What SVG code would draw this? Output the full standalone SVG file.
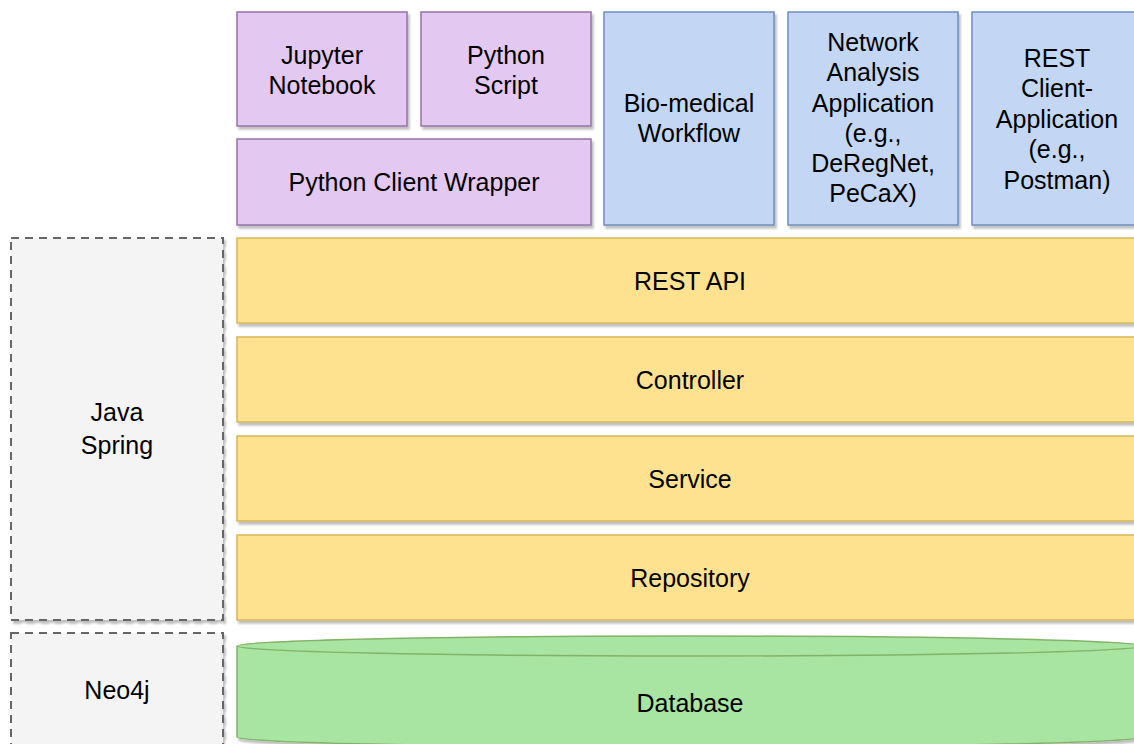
<svg xmlns="http://www.w3.org/2000/svg" width="1134" height="744" viewBox="0 0 1134 744">
<style>
text{font-family:"Liberation Sans",Arial,Helvetica,sans-serif;font-size:25px;fill:#000;text-anchor:middle}
.pur{fill:#e3c9f2;stroke:#9673a6;stroke-width:1.5}
.blu{fill:#c3d7f4;stroke:#6c8ebf;stroke-width:1.5}
.yel{fill:#ffe290;stroke:#d6b656;stroke-width:1.5}
.grn{fill:#a8e4a2;stroke:#82b366;stroke-width:1.5}
.gry{fill:#f4f4f4;stroke:#666;stroke-width:2;stroke-dasharray:8 6}
</style>
<defs>
<filter id="sh" x="-5%" y="-5%" width="115%" height="120%">
<feDropShadow dx="2" dy="3" stdDeviation="1" flood-color="#000" flood-opacity="0.25"/>
</filter>
</defs>
<rect width="1134" height="744" fill="#fff"/>
<g id="java-spring"><rect class="gry" x="11" y="238" width="212" height="382" filter="url(#sh)"/><text x="117" y="421">Java</text><text x="117" y="454">Spring</text></g>
<g id="neo4j"><rect class="gry" x="11" y="633" width="212" height="120" filter="url(#sh)"/><text x="117" y="699">Neo4j</text></g>
<g id="jupyter"><rect class="pur" x="237" y="12" width="170" height="114" filter="url(#sh)"/><text x="322" y="64">Jupyter</text><text x="322" y="94">Notebook</text></g>
<g id="python-script"><rect class="pur" x="421" y="12" width="170" height="114" filter="url(#sh)"/><text x="506" y="64">Python</text><text x="506" y="94">Script</text></g>
<g id="python-client"><rect class="pur" x="237" y="139" width="354" height="86" filter="url(#sh)"/><text x="414" y="191">Python Client Wrapper</text></g>
<g id="biomedical"><rect class="blu" x="604" y="12" width="170" height="213" filter="url(#sh)"/><text x="689" y="112">Bio-medical</text><text x="689" y="142">Workflow</text></g>
<g id="network"><rect class="blu" x="788" y="12" width="170" height="213" filter="url(#sh)"/><text x="873" y="51">Network</text><text x="873" y="81">Analysis</text><text x="873" y="112">Application</text><text x="873" y="142">(e.g.,</text><text x="873" y="172">DeRegNet,</text><text x="873" y="202">PeCaX)</text></g>
<g id="rest-client"><rect class="blu" x="972" y="12" width="170" height="213" filter="url(#sh)"/><text x="1057" y="67">REST</text><text x="1057" y="97">Client-</text><text x="1057" y="128">Application</text><text x="1057" y="158">(e.g.,</text><text x="1057" y="189">Postman)</text></g>
<g id="rest-api"><rect class="yel" x="237" y="238" width="905" height="85" filter="url(#sh)"/><text x="690" y="290">REST API</text></g>
<g id="controller"><rect class="yel" x="237" y="337" width="905" height="85" filter="url(#sh)"/><text x="690" y="389">Controller</text></g>
<g id="service"><rect class="yel" x="237" y="436" width="905" height="85" filter="url(#sh)"/><text x="690" y="488">Service</text></g>
<g id="repository"><rect class="yel" x="237" y="535" width="905" height="85" filter="url(#sh)"/><text x="690" y="587">Repository</text></g>
<g id="database"><path class="grn" filter="url(#sh)" d="M237 646 A452.5 10 0 0 1 1142 646 L1142 737 A452.5 10 0 0 1 237 737 Z"/><path d="M237 646 A452.5 10 0 0 0 1142 646" fill="none" stroke="#82b366" stroke-width="1.5"/><text x="690" y="712">Database</text></g>
<g id="connectors"/>
</svg>
